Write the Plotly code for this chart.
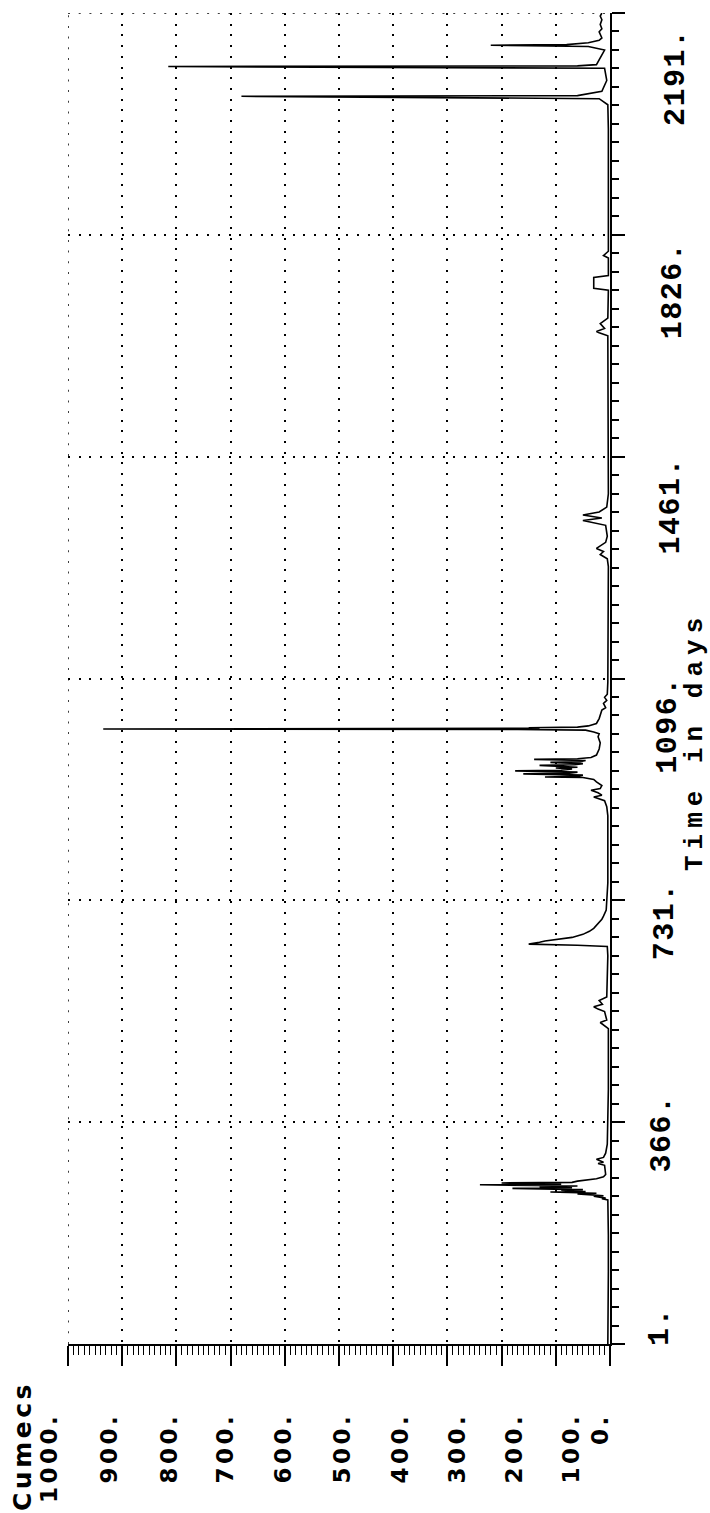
import plotly.graph_objects as go

# ---- daily discharge record (vertices of the hydrograph) ----
days = [1, 60, 120, 180, 230, 238, 240, 241, 244, 245, 248, 249, 251, 252, 254, 255, 257, 258, 260, 261,
        263, 264, 266, 267, 269, 271, 273, 276, 280, 295, 298, 300, 305, 308, 315, 330, 365,
        420, 520, 526, 530, 534, 548, 552, 556, 560, 566, 572, 640, 655, 657, 659, 660, 662, 664, 666,
        670, 675, 680, 685, 694, 700, 705, 715, 760, 800,
        870, 885, 895, 901, 904, 908, 912, 915, 920, 926, 930, 933, 934, 935, 937, 939, 940, 942, 944,
        945, 947, 949, 950, 953, 954, 956, 958, 959, 961, 963, 964, 966, 970, 980, 990, 1000, 1005,
        1008, 1011, 1012, 1013, 1014, 1015, 1016, 1018, 1022, 1030, 1044, 1048, 1055, 1060, 1065, 1070,
        1090, 1100,
        1280, 1293, 1300, 1305, 1310, 1320, 1330, 1348, 1352, 1356, 1360, 1365, 1370, 1378, 1400,
        1600, 1660, 1665, 1667, 1672, 1680, 1689, 1735, 1738, 1756, 1759, 1788, 1792, 1799, 2000,
        2040, 2050, 2054, 2055, 2058, 2062, 2080, 2100, 2103, 2104, 2106, 2130, 2136, 2138, 2139,
        2142, 2146, 2150, 2160, 2165, 2172, 2180, 2186, 2191]
flow = [4, 3, 3, 3, 3, 4, 15, 8, 30, 12, 60, 25, 110, 45, 90, 50, 180, 70, 130, 60,
        240, 90, 200, 70, 60, 40, 25, 12, 8, 10, 22, 12, 25, 12, 8, 5, 4,
        3, 3, 12, 18, 6, 10, 22, 30, 14, 20, 6, 4, 5, 60, 150, 140, 130, 120, 100,
        70, 50, 38, 30, 20, 15, 12, 7, 4, 4,
        4, 6, 10, 30, 15, 22, 35, 18, 15, 25, 30, 50, 120, 60, 50, 160, 75, 60, 175,
        90, 70, 100, 60, 130, 65, 50, 110, 55, 45, 140, 60, 35, 25, 20, 18, 22, 20,
        30, 45, 170, 935, 130, 150, 60, 40, 25, 20, 15, 8, 12, 6, 10, 5,
        4, 4,
        3, 5, 18, 12, 25, 8, 5, 8, 30, 50, 15, 50, 20, 6, 3,
        3, 4, 20, 25, 10, 18, 4, 3, 30, 30, 3, 3, 12, 3, 3,
        4, 20, 680, 60, 40, 15, 6, 10, 815, 60, 25, 10, 40, 220, 80,
        40, 20, 15, 20, 15, 18, 15, 18, 15]

# ---- axis ticks and their printed labels ----
year_ticks = [1, 366, 731, 1096, 1461, 1826, 2191]
year_labels = ["1.", "366.", "731.", "1096.", "1461.", "1826.", "2191."]
flow_ticks = [1000, 900, 800, 700, 600, 500, 400, 300, 200, 100, 0]
flow_labels = ["1000.", "900.", "800.", "700.", "600.", "500.", "400.", "300.", "200.", "100.", "0."]

# ---- page geometry (pixels) ----
W, H = 710, 1513
PL, PR, PT, PB = 68, 610, 13, 1344

def paper_x(px):
    return (px - PL) / (PR - PL)

def paper_y(py):
    return (PB - py) / (PB - PT)

# label centres along each axis, in pixels
flow_label_px = [49, 108, 168, 224, 282, 341, 399, 456, 513, 570, 600]
year_label_py = [1327, 1133, 921, 725, 506, 290, 77]

DOTS = "2px,8.7px"
X_MAX, T_MIN, T_MAX = 1000, 1, 2191

fig = go.Figure()
fig.add_trace(go.Scatter(
    x=flow, y=days, mode="lines",
    line=dict(color="black", width=1.6),
    hoverinfo="skip", showlegend=False,
))

fig.update_layout(
    width=W, height=H,
    margin=dict(l=PL, r=W - PR, t=PT, b=H - PB, pad=0),
    paper_bgcolor="white", plot_bgcolor="white",
    showlegend=False,
)

fig.update_xaxes(
    range=[X_MAX, 0], autorange=False,
    tickmode="array", tickvals=flow_ticks, showticklabels=False,
    ticks="outside", ticklen=20, tickwidth=1.5, tickcolor="black",
    minor=dict(ticks="outside", ticklen=9, tickwidth=1, tickcolor="black",
               dtick=10, tick0=0, showgrid=False),
    showgrid=True, gridcolor="black", gridwidth=1.5, griddash=DOTS,
    showline=True, linecolor="black", linewidth=2,
    zeroline=False,
)
fig.update_yaxes(
    range=[T_MIN, T_MAX], autorange=False, side="right",
    tickmode="array", tickvals=year_ticks, showticklabels=False,
    ticks="outside", ticklen=13, tickwidth=1.5, tickcolor="black",
    minor=dict(ticks="outside", ticklen=7, tickwidth=1.5, tickcolor="black",
               dtick=365 / 12, tick0=1, showgrid=False),
    showgrid=True, gridcolor="black", gridwidth=1.5, griddash=DOTS,
    showline=True, linecolor="black", linewidth=2,
    zeroline=False,
)

# dotted grid lines on the two open edges of the frame
fig.add_shape(type="line", xref="x", yref="y", x0=X_MAX, x1=X_MAX, y0=T_MIN, y1=T_MAX,
              line=dict(color="black", width=1.5, dash=DOTS))
fig.add_shape(type="line", xref="x", yref="y", x0=X_MAX, x1=0, y0=T_MAX, y1=T_MAX,
              line=dict(color="black", width=1.5, dash=DOTS))

annotations = []

# discharge labels under the bottom axis
for lab, px in zip(flow_labels, flow_label_px):
    annotations.append(dict(
        text=f'<span style="letter-spacing:3.5px">{lab}</span>',
        xref="paper", yref="paper", x=paper_x(px), y=paper_y(1411),
        xanchor="center", yanchor="top", textangle=-90, showarrow=False,
        font=dict(family="DejaVu Sans", size=23, color="black", weight="bold"),
    ))

# time labels right of the time axis
for lab, py in zip(year_labels, year_label_py):
    cx = 660 + (1327 - py) * 16 / 1250
    annotations.append(dict(
        text=f'<span style="letter-spacing:1.5px">{lab}</span>',
        xref="paper", yref="paper", x=paper_x(cx), y=paper_y(py),
        xanchor="center", yanchor="middle", textangle=-90, showarrow=False,
        font=dict(family="Liberation Mono", size=30, color="black", weight="bold"),
    ))

# axis titles
annotations.append(dict(
    text='<span style="letter-spacing:6px">Time in days</span>',
    xref="paper", yref="paper", x=paper_x(695), y=paper_y(742),
    xanchor="center", yanchor="middle", textangle=-90, showarrow=False,
    font=dict(family="Liberation Mono", size=26, color="black", weight="bold"),
))
annotations.append(dict(
    text='<span style="letter-spacing:3.5px">Cumecs</span>',
    xref="paper", yref="paper", x=paper_x(22), y=paper_y(1446),
    xanchor="center", yanchor="middle", textangle=-90, showarrow=False,
    font=dict(family="DejaVu Sans", size=25, color="black", weight="bold"),
))

fig.update_layout(annotations=annotations)

fig.write_html("out.html")
